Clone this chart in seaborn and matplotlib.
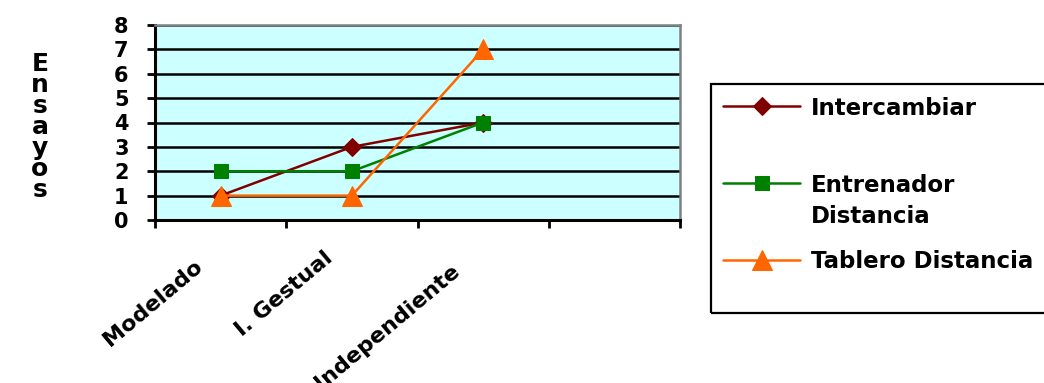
import matplotlib
matplotlib.use("Agg")
import matplotlib.pyplot as plt
from matplotlib.patches import Rectangle
import seaborn as sns

# Categories and series values
categorias = ["Modelado", "I. Gestual", "Independiente"]
intercambiar = [1, 3, 4]
entrenador_distancia = [2, 2, 4]
tablero_distancia = [1, 1, 7]
series_nombres = ["Intercambiar", "Entrenador Distancia", "Tablero Distancia"]
y_ticks = [0, 1, 2, 3, 4, 5, 6, 7, 8]

sns.set_theme(style="white")
plt.rcParams["font.family"] = ["DejaVu Sans"]
plt.rcParams["font.weight"] = "bold"
plt.rcParams["text.color"] = "black"
plt.rcParams["xtick.color"] = "black"
plt.rcParams["ytick.color"] = "black"

W, H = 1044, 383
fig = plt.figure(figsize=(W / 100, H / 100), dpi=100)
fig.patch.set_facecolor("white")

# plot area in pixel coordinates
x0, x1, ytop, ybot = 155, 680, 25, 220
ax = fig.add_axes([x0 / W, 1 - ybot / H, (x1 - x0) / W, (ybot - ytop) / H])
ax.set_facecolor("#CCFFFF")

pos = list(range(len(categorias)))

sns.lineplot(x=pos, y=intercambiar, ax=ax, color="#800000", lw=1.8,
             marker="D", markersize=9, markeredgecolor="#800000",
             label=series_nombres[0], zorder=3)
sns.lineplot(x=pos, y=entrenador_distancia, ax=ax, color="#008000", lw=1.8,
             marker="s", markersize=10, markeredgecolor="#008000",
             label=series_nombres[1], zorder=4)
sns.lineplot(x=pos, y=tablero_distancia, ax=ax, color="#FF6600", lw=1.8,
             marker="^", markersize=14, markeredgecolor="#FF6600",
             label=series_nombres[2], zorder=5)

handles, labels = ax.get_legend_handles_labels()
ax.get_legend().remove()

ax.set_xlim(-0.5, 3.5)
ax.set_ylim(0, 8)
ax.set_yticks(y_ticks)
ax.set_yticklabels([str(v) for v in y_ticks], fontsize=15, fontweight="bold",
                   color="black")

# tick marks sit on category boundaries; names are placed under each category
ax.set_xticks([-0.5, 0.5, 1.5, 2.5, 3.5])
ax.set_xticklabels([])
ax.tick_params(axis="x", which="major", length=6, width=2, color="black",
               direction="out", bottom=True)
ax.tick_params(axis="y", which="major", length=6, width=2, color="black",
               direction="out", left=True, pad=13)
label_shift = [(-27, -36), (-28, -28), (-32, -41)]
for p, cat, (dx, dy) in zip(pos, categorias, label_shift):
    ax.annotate(cat, xy=(p, 0), xycoords=("data", "axes fraction"),
                xytext=(dx, dy), textcoords="offset pixels",
                rotation=40, rotation_mode="anchor", ha="right", va="top",
                fontsize=16, fontweight="bold", color="black",
                annotation_clip=False)
ax.set_xlabel("")
ax.set_ylabel("")

ax.grid(axis="y", color="black", lw=1.8, zorder=1)
ax.grid(axis="x", visible=False)
ax.set_axisbelow(True)

for side in ["left", "bottom"]:
    ax.spines[side].set_color("black")
    ax.spines[side].set_linewidth(2.2)
for side in ["top", "right"]:
    ax.spines[side].set_color("#808080")
    ax.spines[side].set_linewidth(1.8)

# vertical stacked axis title
fig.text(40 / W, 1 - 127 / H, "E\nn\ns\na\ny\no\ns", ha="center", va="center",
         fontsize=18, fontweight="heavy", linespacing=0.85, color="black")

# legend box
fig.patches.append(Rectangle((711 / W, 1 - 313 / H), 0.4, (313 - 84) / H,
                             transform=fig.transFigure, fill=False,
                             edgecolor="black", lw=1.6))

fs = 16.5
fs_px = fs * 100 / 72
rows = [108, 185, 262]
legend_text = ["Intercambiar", "Entrenador", "Tablero Distancia"]
for h, txt, yr in zip(handles, legend_text, rows):
    leg = fig.legend(handles=[h], labels=[txt], loc="center left",
                     bbox_to_anchor=(723 / W, 1 - yr / H), frameon=False,
                     borderpad=0, borderaxespad=0, handlelength=77 / fs_px,
                     handletextpad=11 / fs_px,
                     prop={"size": fs, "weight": "bold"})
    for t in leg.get_texts():
        t.set_color("black")
fig.text(811 / W, 1 - 216 / H, "Distancia", ha="left", va="center",
         fontsize=fs, fontweight="bold", color="black")

fig.savefig("out.png", dpi=100, facecolor="white")
